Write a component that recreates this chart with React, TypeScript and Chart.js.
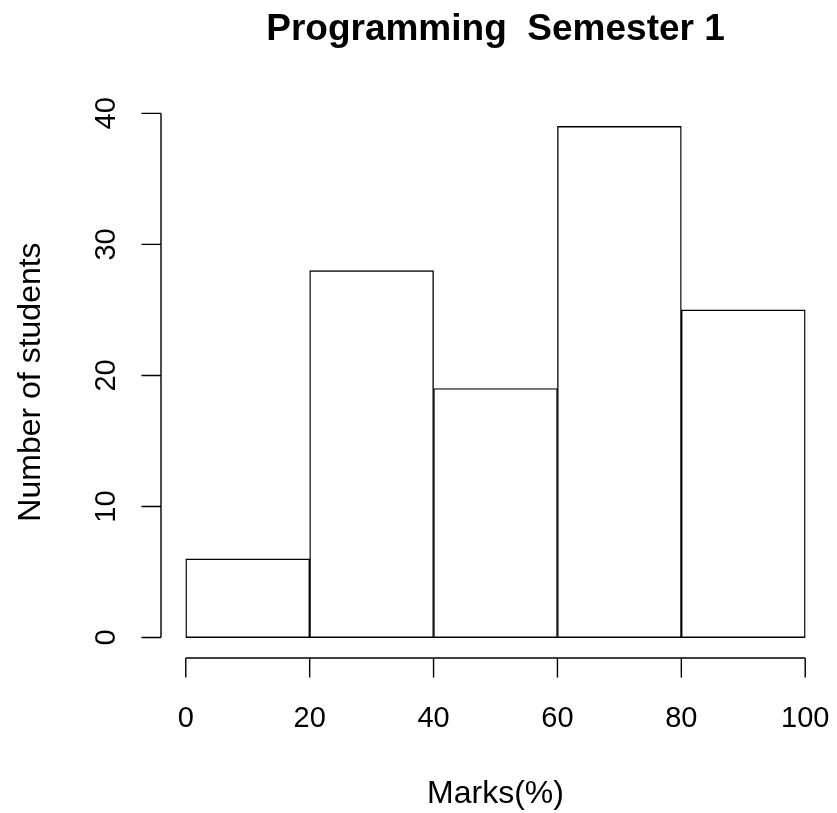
import React, { useEffect, useRef } from "react";
import { Chart, registerables } from "chart.js";

Chart.register(...registerables);

const breaks = [0, 20, 40, 60, 80, 100];
const counts = [6, 28, 19, 39, 25];
const xTicks = [0, 20, 40, 60, 80, 100];
const yTicks = [0, 10, 20, 30, 40];
const titleText = "Programming  Semester 1";
const xLabel = "Marks(%)";
const yLabel = "Number of students";

const FONT = '"Liberation Sans", Arial, Helvetica, sans-serif';

const rAxesPlugin = {
  id: "rAxes",
  afterDraw(chart: any) {
    const ctx = chart.ctx as CanvasRenderingContext2D;
    const xs = chart.scales.x;
    const ys = chart.scales.y;
    const area = chart.chartArea;
    const tickLen = 19.5;
    ctx.save();
    ctx.strokeStyle = "#000";
    ctx.fillStyle = "#000";
    ctx.lineWidth = 1.4;

    // x axis
    const xAxisY = area.bottom;
    const x0 = xs.getPixelForValue(xTicks[0]);
    const x1 = xs.getPixelForValue(xTicks[xTicks.length - 1]);
    ctx.beginPath();
    ctx.moveTo(x0, xAxisY);
    ctx.lineTo(x1, xAxisY);
    xTicks.forEach((t) => {
      const px = xs.getPixelForValue(t);
      ctx.moveTo(px, xAxisY);
      ctx.lineTo(px, xAxisY + tickLen);
    });
    ctx.stroke();

    // y axis
    const yAxisX = area.left;
    const y0 = ys.getPixelForValue(yTicks[0]);
    const y1 = ys.getPixelForValue(yTicks[yTicks.length - 1]);
    ctx.beginPath();
    ctx.moveTo(yAxisX, y0);
    ctx.lineTo(yAxisX, y1);
    yTicks.forEach((t) => {
      const py = ys.getPixelForValue(t);
      ctx.moveTo(yAxisX, py);
      ctx.lineTo(yAxisX - tickLen, py);
    });
    ctx.stroke();

    // x tick labels
    ctx.font = `29px ${FONT}`;
    ctx.textAlign = "center";
    ctx.textBaseline = "alphabetic";
    xTicks.forEach((t) => {
      ctx.fillText(String(t), xs.getPixelForValue(t), xAxisY + 69);
    });

    // y tick labels (rotated)
    yTicks.forEach((t) => {
      ctx.save();
      ctx.translate(yAxisX - 46, ys.getPixelForValue(t));
      ctx.rotate(-Math.PI / 2);
      ctx.fillText(String(t), 0, 0);
      ctx.restore();
    });

    const cx = (area.left + area.right) / 2;
    const cy = (area.top + area.bottom) / 2;

    // axis titles
    ctx.font = `32px ${FONT}`;
    ctx.fillText(xLabel, cx, xAxisY + 145);
    ctx.save();
    ctx.translate(yAxisX - 121, cy);
    ctx.rotate(-Math.PI / 2);
    ctx.fillText(yLabel, 0, 0);
    ctx.restore();

    // main title
    ctx.font = `bold 37px ${FONT}`;
    ctx.fillText(titleText, cx, 40);

    ctx.restore();
  },
};

export default function App() {
  const ref = useRef<HTMLCanvasElement | null>(null);

  useEffect(() => {
    if (!ref.current) return;
    const mids = counts.map((_, i) => (breaks[i] + breaks[i + 1]) / 2);
    const span = breaks[breaks.length - 1] - breaks[0];
    const xMin = breaks[0] - 0.04 * span;
    const xMax = breaks[breaks.length - 1] + 0.04 * span;
    const cMax = Math.max(...counts);
    const yMin = -0.04 * cMax;
    const yMax = cMax * 1.04;
    const chart = new Chart(ref.current, {
      type: "bar",
      data: {
        datasets: [
          {
            data: mids.map((m, i) => ({ x: m, y: counts[i] })),
            backgroundColor: "#ffffff",
            borderColor: "#000000",
            borderWidth: 1.4,
            borderSkipped: false,
            barPercentage: 1,
            categoryPercentage: 1,
          } as any,
        ],
      },
      options: {
        responsive: false,
        animation: false,
        devicePixelRatio: 1,
        layout: { padding: { left: 161, right: 7, top: 106, bottom: 155 } },
        plugins: { legend: { display: false }, tooltip: { enabled: false }, title: { display: false } },
        scales: {
          x: {
            type: "linear",
            min: xMin,
            max: xMax,
            display: false,
            offset: false,
            afterBuildTicks: (scale: any) => {
              scale.ticks = xTicks.map((v) => ({ value: v }));
            },
          },
          y: { type: "linear", min: yMin, max: yMax, display: false },
        },
      },
      plugins: [rAxesPlugin],
    });
    return () => chart.destroy();
  }, []);

  return (
    <div style={{ position: "absolute", left: 0, top: 0, width: 837, height: 813, background: "#fff" }}>
      <canvas ref={ref} width={837} height={813} />
    </div>
  );
}
